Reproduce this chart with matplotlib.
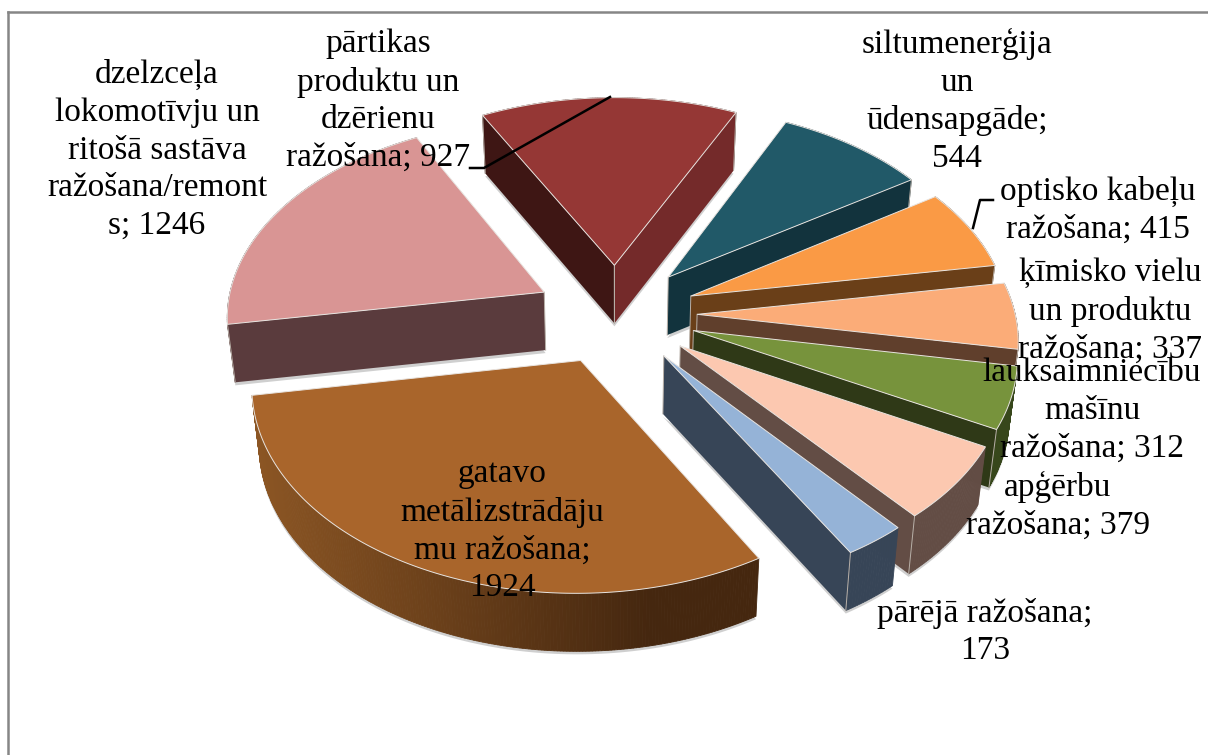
import numpy as np
import matplotlib
matplotlib.use('Agg')
import matplotlib.pyplot as plt
from matplotlib.patches import Polygon

plt.rcParams['font.family'] = ['Liberation Serif', 'DejaVu Serif']

labels = ['siltumenerģija\nun\nūdensapgāde;\n544', 'optisko kabeļu\nražošana; 415',
          'ķīmisko vielu\nun produktu\nražošana; 337', 'lauksaimniecību\nmašīnu\nražošana; 312',
          'apģērbu\nražošana; 379', 'pārējā ražošana;\n173',
          'gatavo\nmetālizstrādāju\nmu ražošana;\n1924',
          'dzelzceļa\nlokomotīvju un\nritošā sastāva\nražošana/remont\ns; 1246',
          'pārtikas\nproduktu un\ndzērienu\nražošana; 927']
values = [544, 415, 337, 312, 379, 173, 1924, 1246, 927]
top_colors = ['#215968', '#fa9a45', '#fbac78', '#77933c', '#fcc8b0', '#95b3d7', '#a9652b', '#d99594', '#953735']
start_wall = ['#12333d', '#6a3f18', '#603f2c', '#2f3917', '#634d45', '#374557', '#45270f', '#5a3b3d', '#3e1614']
end_wall = ['#12333d', '#6a3f18', '#603f2c', '#2f3917', '#634d45', '#374557', '#45270f', '#5a3b3d', '#742a2a']
draw_order = [8, 0, 7, 1, 2, 3, 4, 5, 6]
label_pos = [(957, 101), (1098, 210), (1110, 311), (1092, 411), (1058, 506), (985, 632), (502, 531), (157, 150), (378, 101)]

first_angle = 25.5
explode = 0.255
cx, cy = 616, 314
radius = 318
squash = 0.617
persp = 0.11
depth = 58
lean = 0.02


def project(u, v, z=0.0):
    w = 1 - persp * v
    return cx + radius * u / w * (1 - lean * z), cy + radius * squash * v / w + depth * z


def slice_points(a0, a1):
    mid = np.radians((a0 + a1) / 2)
    ox, oy = explode * np.sin(mid), -explode * np.cos(mid)
    t = np.radians(np.linspace(a0, a1, max(int(a1 - a0), 2) * 2))
    return ox, oy, t, ox + np.sin(t), oy - np.cos(t)


def is_visible(apex, rim, mid):
    ex, ey = rim[0] - apex[0], rim[1] - apex[1]
    inside = ex * (mid[1] - apex[1]) - ey * (mid[0] - apex[0])
    return inside * ex < 0


fig = plt.figure(figsize=(12.08, 7.55), dpi=100)
ax = fig.add_axes([0, 0, 1, 1])
ax.set_xlim(0, 1208)
ax.set_ylim(755, 0)
ax.axis('off')

ax.plot([8, 8], [755, 12], color='#868686', lw=1.8)
ax.plot([8, 1208], [12, 12], color='#868686', lw=1.8)

angles = first_angle + np.concatenate([[0], np.cumsum(values)]) / sum(values) * 360

z = 2
for i in draw_order:
    a0, a1 = angles[i], angles[i + 1]
    ox, oy, t, us, vs = slice_points(a0, a1)
    xt, yt = project(us, vs)
    xb, yb = project(us, vs, 1)
    ax0, ay0 = project(ox, oy)
    bx0, by0 = project(ox, oy, 1)
    mid = len(xt) // 2

    # soft shadow under the slice
    ax.add_patch(Polygon(np.column_stack([np.r_[bx0, xb], np.r_[by0, yb] + 3]),
                         fc='#cfcfcf', ec='none', zorder=z))

    # outer wall, shaded along the arc
    for k in range(len(xt) - 1):
        col = start_wall[i]
        if i == 6:
            f = np.clip((xt[k] - 250) / 400, 0, 1)
            col = np.array([0x8c, 0x56, 0x24]) * (1 - f) + np.array([0x45, 0x27, 0x0f]) * f
            col = col / 255
        elif i == 3:
            col = '#37471b'
        quad = [(xt[k], yt[k]), (xt[k + 1], yt[k + 1]), (xb[k + 1], yb[k + 1]), (xb[k], yb[k])]
        ax.add_patch(Polygon(quad, fc=col, ec=col, lw=0.6, zorder=z + 0.1))

    # flat cut walls that face the viewer
    for rim_i, col in ((0, start_wall[i]), (-1, end_wall[i])):
        if is_visible((ax0, ay0), (xt[rim_i], yt[rim_i]), (xt[mid], yt[mid])):
            quad = [(ax0, ay0), (xt[rim_i], yt[rim_i]), (xb[rim_i], yb[rim_i]), (bx0, by0)]
            ax.add_patch(Polygon(quad, fc=col, ec='none', zorder=z + 0.2))
            ax.plot([xt[rim_i], xb[rim_i]], [yt[rim_i], yb[rim_i]], color='#b8b0a8', lw=0.7, zorder=z + 0.3)
            ax.plot([ax0, bx0], [ay0, by0], color='#b8b0a8', lw=0.7, zorder=z + 0.3)

    top = np.column_stack([np.r_[ax0, xt], np.r_[ay0, yt]])
    ax.add_patch(Polygon(top, fc=top_colors[i], ec='#e8e4e0', lw=0.7, zorder=z + 0.4))
    z += 1

# leader lines
ax.plot([470, 484, 610], [168, 168, 97], color='black', lw=1.8, zorder=20)
ax.plot([973, 980, 993], [228, 200, 200], color='black', lw=1.8, zorder=20)

for name, (x, y) in zip(labels, label_pos):
    ax.text(x, y, name, ha='center', va='center', fontsize=24, color='black', linespacing=1.31, zorder=30)

plt.savefig('out.png', dpi=100)
